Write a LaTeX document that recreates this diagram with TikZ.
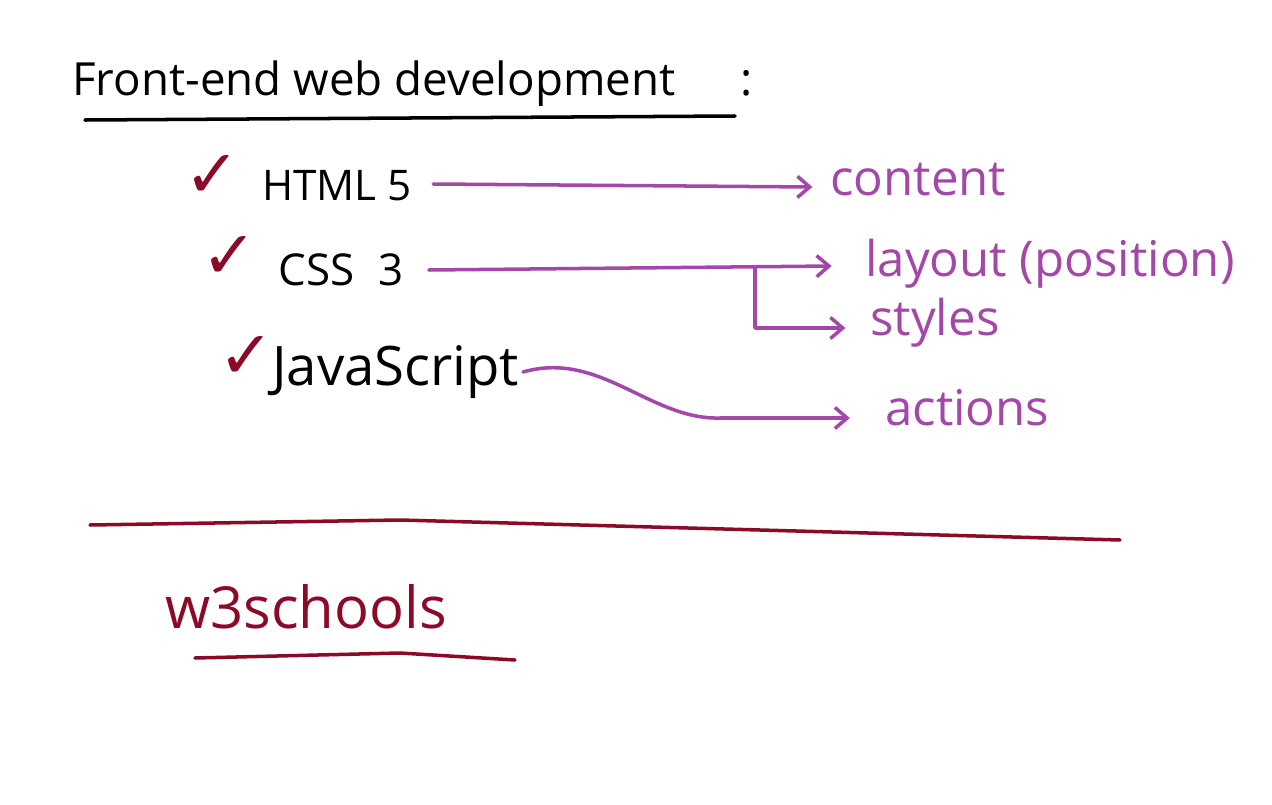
\documentclass[tikz,border=0pt]{standalone}
\usepackage{fontspec}
\setmainfont{Open Sans}
\newfontfamily\symfont{DejaVu Sans}
\usepackage{xcolor}
\usetikzlibrary{arrows.meta, positioning}
\definecolor{wine}{RGB}{139, 10, 40}
\definecolor{plum}{RGB}{163, 71, 168}

\begin{document}
\begin{tikzpicture}[
    x=0.02cm, y=-0.02cm,
    hand/.style={inner sep=0pt, anchor=base west, font=\fontsize{26}{30}\selectfont},
    item/.style={hand, font=\fontsize{24}{28}\selectfont},
    note/.style={hand, text=plum, font=\fontsize{28}{32}\selectfont},
    tick/.style={inner sep=0pt, anchor=base west, text=wine, font=\symfont\fontsize{38}{40}\selectfont},
    arr/.style={-{Straight Barb[length=7pt, width=12pt]}, line width=2pt, color=plum,
      line cap=round, line join=round},
    rule/.style={line width=2pt, line cap=round}
  ]
  \useasboundingbox (0,0) rectangle (1272,805);

  % -- heading --------------------------------------------------
  \node[hand] (title) at (72,95) {Front-end web development\hspace{1.3cm}:};
  \draw[rule] (85,120) -- (735,116);

  % -- the three languages ---------------------------------------
  \node[tick] (tick1) at (184,197) {✓};
  \node[tick] (tick2) at (201,278) {✓};
  \node[tick] (tick3) at (218,378) {✓};

  \node[item] (html) at (262,200) {HTML 5};
  \node[item, font=\fontsize{25}{28}\selectfont] (css) at (278,285) {CSS\hspace{14pt}3};
  \node[item, font=\fontsize{31}{34}\selectfont] (js) at (272,385) {JavaScript};

  % -- what each one is for --------------------------------------
  \node[note] (content) at (830,195) {content};
  \node[note] (layout)  at (865,276) {layout (position)};
  \node[note] (styles)  at (870,335) {styles};
  \node[note] (actions) at (885,425) {actions};

  \coordinate (split) at (755,267);
  \coordinate (bend)  at (720,418);

  \draw[arr] ([xshift=12pt]html.east |- 0,184) -- ([xshift=-10pt]content.west |- 0,187);
  \draw[arr] ([xshift=14pt]css.east |- 0,270) -- ([xshift=-19pt]layout.west |- 0,266);
  \draw[arr] (split) |- ([xshift=-14pt]styles.west |- 0,328);
  \draw[arr] ([xshift=2pt]js.east |- 0,372) .. controls (600,350) and (650,420) .. (bend)
    -- ([xshift=-20pt]actions.west |- 0,418);

  % -- divider and link ------------------------------------------
  \draw[rule, wine] (90,525) -- (400,520) -- (1120,540);
  \node[hand, text=wine, font=\fontsize{33}{36}\selectfont] (w3) at (165,628) {w3schools};
  \draw[rule, wine] (195,658) -- (400,653) -- (515,660);

\end{tikzpicture}
\end{document}
